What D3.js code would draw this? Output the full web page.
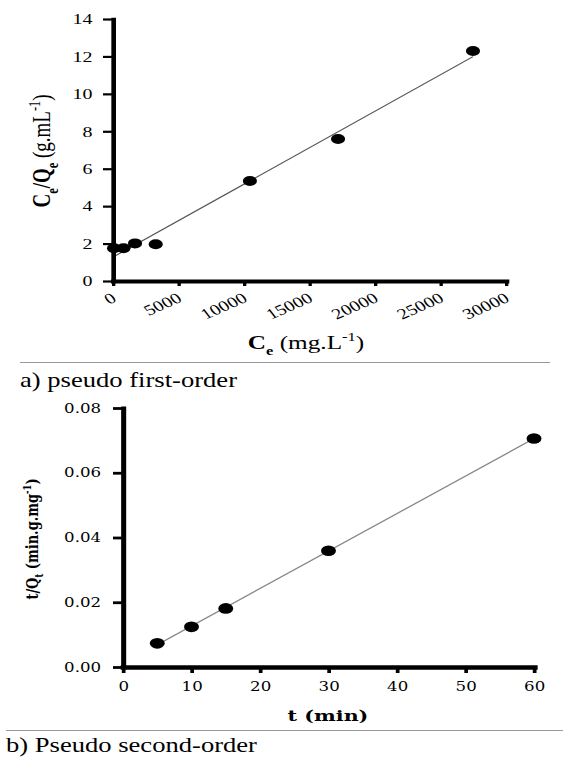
<!DOCTYPE html>
<html>
<head>
<meta charset="utf-8">
<script src="https://d3js.org/d3.v7.min.js"></script>
<style>
body{margin:0;background:#fff;}
svg{display:block;}
</style>
</head>
<body>
<svg id="chart" width="578" height="757"></svg>
<script>
// a) pseudo first-order : Ce/Qe vs Ce
var ceValues   = [80, 800, 1680, 3260, 10450, 17180, 27480];
var ceQeValues = [1.75, 1.75, 2.01, 1.96, 5.34, 7.59, 12.29];
var ceTicks    = [0, 5000, 10000, 15000, 20000, 25000, 30000];
var ceQeTicks  = [0, 2, 4, 6, 8, 10, 12, 14];

// b) pseudo second-order : t/Qt vs t
var tValues   = [5, 10, 15, 30, 60];
var tQtValues = [0.0073, 0.0124, 0.0181, 0.0359, 0.0706];
var tTicks    = [0, 10, 20, 30, 40, 50, 60];
var tQtTicks  = [0, 0.02, 0.04, 0.06, 0.08];

var SX = 1.33;   // the whole figure is stretched sideways
var TIMES = '"Liberation Serif","Times New Roman",serif'
	,WIDE = '"DejaVu Serif",serif';

var svg = d3.select('#chart');
var root = svg.append('g').attr('transform','scale('+SX+',1)');
function px(v){ return v / SX; }

// least squares line
function fitLine(xs, ys){
	var mx = d3.mean(xs), my = d3.mean(ys), sxx = 0, sxy = 0;
	for(var i=0;i<xs.length;i++){
		sxx += (xs[i]-mx)*(xs[i]-mx);
		sxy += (xs[i]-mx)*(ys[i]-my);
	}
	var m = sxy/sxx;
	return { m:m, b:my - m*mx };
}

// text with sub / superscript pieces
function richText(sel, parts, size){
	var shift = 0;
	parts.forEach(function(p){
		var ts = sel.append('tspan').text(p.t);
		var want = p.sub ? size*0.3 : (p.sup ? -size*0.4 : 0);
		ts.attr('dy', want - shift);
		shift = want;
		if(p.sub || p.sup) ts.style('font-size', (size*0.65)+'px');
		if(p.b) ts.style('font-weight','bold');
	});
	return sel;
}

function styleAxis(g, font, size, domainW, tickW){
	g.select('.domain').attr('stroke','#000').attr('stroke-width',domainW).attr('stroke-linecap','square');
	g.selectAll('.tick line').attr('stroke','#000').attr('stroke-width',tickW);
	g.selectAll('.tick text').attr('fill','#000').style('font-family',font).style('font-size',size+'px');
}

//---------------- chart a
var x1 = d3.scaleLinear().domain([0,30000]).range([px(113),px(506)]);
var y1 = d3.scaleLinear().domain([0,14]).range([281,19]);
var gA = root.append('g');

var f1 = fitLine(ceValues, ceQeValues);
var x1Max = d3.max(ceValues);
gA.append('line')
	.attr('x1',x1(0)).attr('y1',y1(f1.b))
	.attr('x2',x1(x1Max)).attr('y2',y1(f1.b + f1.m*x1Max))
	.attr('stroke','#555').attr('stroke-width',1.1);

var gAx = gA.append('g').attr('transform','translate(0,'+y1(0)+')')
	.call(d3.axisBottom(x1).tickValues(ceTicks).tickSize(5).tickSizeOuter(0).tickFormat(d3.format('d')));
styleAxis(gAx, TIMES, 15, 4, 2.5);
gAx.selectAll('.tick text')
	.attr('x',0).attr('y',0).attr('dy',0)
	.attr('text-anchor','end')
	.attr('transform','translate(3,20) rotate(-30)');

var gAy = gA.append('g').attr('transform','translate('+x1(0)+',0)')
	.call(d3.axisLeft(y1).tickValues(ceQeTicks).tickSize(7.5).tickSizeOuter(0).tickPadding(8).tickFormat(d3.format('d')));
styleAxis(gAy, TIMES, 15, 3.5, 2.2);

gA.selectAll('.dot').data(ceValues).enter().append('ellipse')
	.attr('class','dot')
	.attr('cx',function(d){ return x1(d); })
	.attr('cy',function(d,i){ return y1(ceQeValues[i]); })
	.attr('rx',5.3).attr('ry',5)
	.attr('fill','#000');

var yTitleA = gA.append('text')
	.attr('transform','translate('+px(50)+',151) rotate(-90)')
	.attr('text-anchor','middle')
	.style('font-family',TIMES).style('font-size','19px');
richText(yTitleA, [
	{t:'C',b:true},{t:'e',b:true,sub:true},{t:'/Q',b:true},{t:'e',b:true,sub:true},
	{t:' (g.mL'},{t:'-1',sup:true},{t:')'}
], 19);

var xTitleA = gA.append('text')
	.attr('x',px(306)).attr('y',349)
	.attr('text-anchor','middle')
	.style('font-family',TIMES).style('font-size','19px');
richText(xTitleA, [
	{t:'C',b:true},{t:'e',b:true,sub:true},{t:' (mg.L'},{t:'-1',sup:true},{t:')'}
], 19);

root.append('text')
	.attr('x',px(20)).attr('y',387)
	.style('font-family',TIMES).style('font-size','20px')
	.text('a) pseudo first-order');

//---------------- chart b
var x2 = d3.scaleLinear().domain([0,60]).range([px(123),px(534)]);
var y2 = d3.scaleLinear().domain([0,0.08]).range([667,408]);
var gB = root.append('g');

var f2 = fitLine(tValues, tQtValues);
var t0 = d3.min(tValues), t1 = d3.max(tValues);
gB.append('line')
	.attr('x1',x2(t0)).attr('y1',y2(f2.b + f2.m*t0))
	.attr('x2',x2(t1)).attr('y2',y2(f2.b + f2.m*t1))
	.attr('stroke','#888').attr('stroke-width',1.2);

var gBx = gB.append('g').attr('transform','translate(0,'+y2(0)+')')
	.call(d3.axisBottom(x2).tickValues(tTicks).tickSize(6).tickSizeOuter(0).tickPadding(9).tickFormat(d3.format('d')));
styleAxis(gBx, WIDE, 12.5, 4.5, 2.8);

var gBy = gB.append('g').attr('transform','translate('+x2(0)+',0)')
	.call(d3.axisLeft(y2).tickValues(tQtTicks).tickSize(7.5).tickSizeOuter(0).tickPadding(9).tickFormat(d3.format('.2f')));
styleAxis(gBy, WIDE, 12.5, 3.8, 2.8);

gB.selectAll('.dot').data(tValues).enter().append('ellipse')
	.attr('class','dot')
	.attr('cx',function(d){ return x2(d); })
	.attr('cy',function(d,i){ return y2(tQtValues[i]); })
	.attr('rx',5.6).attr('ry',5.3)
	.attr('fill','#000');

var yTitleB = gB.append('text')
	.attr('transform','translate('+px(38)+',539) rotate(-90)')
	.attr('text-anchor','middle')
	.style('font-family',WIDE).style('font-size','13px').style('font-weight','bold');
richText(yTitleB, [
	{t:'t/Q'},{t:'t',sub:true},{t:' (min.g.mg'},{t:'-1',sup:true},{t:')'}
], 13);

gB.append('text')
	.attr('x',px(328)).attr('y',721)
	.attr('text-anchor','middle')
	.style('font-family',WIDE).style('font-size','15.5px').style('font-weight','bold')
	.text('t (min)');

root.append('text')
	.attr('x',px(6)).attr('y',752)
	.style('font-family',TIMES).style('font-size','20px')
	.text('b) Pseudo second-order');

// separators under each panel
svg.append('line').attr('x1',20).attr('x2',550).attr('y1',362.5).attr('y2',362.5)
	.attr('stroke','#999').attr('stroke-width',1);
svg.append('line').attr('x1',6).attr('x2',563).attr('y1',730.5).attr('y2',730.5)
	.attr('stroke','#999').attr('stroke-width',1);
</script>
</body>
</html>
